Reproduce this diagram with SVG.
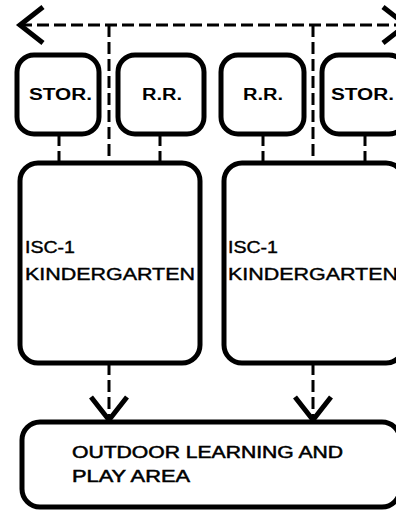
<svg xmlns="http://www.w3.org/2000/svg" width="396" height="512" viewBox="0 0 396 512">
  <style>
    .box { fill: #fff; stroke: #000; stroke-width: 5; }
    .dash { fill: none; stroke: #000; stroke-width: 3; stroke-dasharray: 12 5; }
    .lbl { font-family: "Liberation Sans", Arial, sans-serif; fill: #000; }
    .small { font-size: 16px; font-weight: bold; }
    .kg { font-size: 17px; stroke: #000; stroke-width: 0.4; }
    .out { font-size: 16px; stroke: #000; stroke-width: 0.5; }
  </style>
  <defs>
    <marker id="chev" markerUnits="userSpaceOnUse" markerWidth="40" markerHeight="50" viewBox="-30 -25 40 50" refX="0" refY="0" orient="auto-start-reverse" overflow="visible">
      <path d="M -23 -18 L 0 0 L -23 18" fill="none" stroke="#000" stroke-width="5" stroke-dasharray="none"/>
    </marker>
  </defs>
  <rect width="396" height="512" fill="#fff"/>

  <g id="connectors">
    <path class="dash" d="M 20 25 L 406 25" marker-start="url(#chev)" marker-end="url(#chev)"/>
    <path class="dash" d="M 109 25 L 109 163"/>
    <path class="dash" d="M 313 25 L 313 163"/>
    <path class="dash" d="M 59 134 L 59 163" stroke-dasharray="14 3 20"/>
    <path class="dash" d="M 160 134 L 160 163" stroke-dasharray="14 3 20"/>
    <path class="dash" d="M 263 134 L 263 163" stroke-dasharray="14 3 20"/>
    <path class="dash" d="M 365 134 L 365 163" stroke-dasharray="14 3 20"/>
    <path class="dash" d="M 109 363 L 109 420" marker-end="url(#chev)"/>
    <path class="dash" d="M 313 363 L 313 420" marker-end="url(#chev)"/>
  </g>

  <g id="stor1">
    <rect class="box" x="17" y="55" width="82" height="79" rx="17"/>
    <text class="lbl small" x="29" y="100" textLength="63" lengthAdjust="spacingAndGlyphs">STOR.</text>
  </g>
  <g id="rr1">
    <rect class="box" x="118" y="55" width="86" height="79" rx="17"/>
    <text class="lbl small" x="142" y="100" textLength="40" lengthAdjust="spacingAndGlyphs">R.R.</text>
  </g>
  <g id="rr2">
    <rect class="box" x="221" y="55" width="83" height="79" rx="17"/>
    <text class="lbl small" x="243" y="100" textLength="40" lengthAdjust="spacingAndGlyphs">R.R.</text>
  </g>
  <g id="stor2">
    <rect class="box" x="322" y="55" width="84" height="79" rx="17"/>
    <text class="lbl small" x="331" y="100" textLength="63" lengthAdjust="spacingAndGlyphs">STOR.</text>
  </g>

  <g id="kg1">
    <rect class="box" x="20" y="163" width="180" height="200" rx="18"/>
    <text class="lbl kg" x="25" y="253" textLength="50" lengthAdjust="spacingAndGlyphs">ISC-1</text>
    <text class="lbl kg" x="25" y="280" textLength="170" lengthAdjust="spacingAndGlyphs">KINDERGARTEN</text>
  </g>
  <g id="kg2">
    <rect class="box" x="224" y="163" width="180" height="200" rx="18"/>
    <text class="lbl kg" x="228" y="253" textLength="50" lengthAdjust="spacingAndGlyphs">ISC-1</text>
    <text class="lbl kg" x="228" y="280" textLength="170" lengthAdjust="spacingAndGlyphs">KINDERGARTEN</text>
  </g>

  <g id="outdoor">
    <rect class="box" x="22" y="422" width="378" height="85" rx="18"/>
    <text class="lbl out" x="72" y="458" textLength="271" lengthAdjust="spacingAndGlyphs">OUTDOOR LEARNING AND</text>
    <text class="lbl out" x="72" y="482" textLength="118" lengthAdjust="spacingAndGlyphs">PLAY AREA</text>
  </g>
</svg>
